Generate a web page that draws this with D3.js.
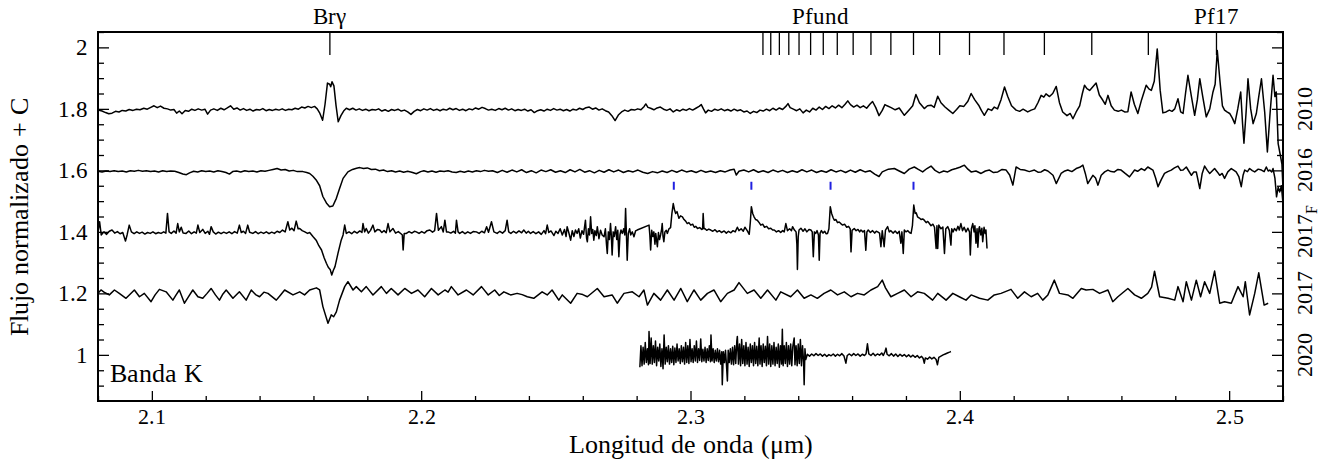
<!DOCTYPE html>
<html><head><meta charset="utf-8">
<script src="https://cdn.jsdelivr.net/npm/d3@7"></script>
<style>
@font-face{font-family:"ChartSerif";src:local("Liberation Serif"),local("LiberationSerif"),local("LiberationSerif-Regular"),local("Times New Roman"),local("TimesNewRomanPSMT"),local("Tinos"),local("Nimbus Roman"),local("NimbusRoman-Regular"),local("DejaVu Serif"),local("DejaVuSerif"),local("Noto Serif"),local("NotoSerif-Regular");}
html,body{margin:0;padding:0;background:#fff;}
</style></head>
<body><svg id="chart" width="1328" height="468"></svg>
<script>
// ---------- DATA ----------
const xDomain = [2.08, 2.52];
const yDomain = [0.85, 2.05];
const xMajorTicks = [2.1, 2.2, 2.3, 2.4, 2.5];
const yMajorTicks = [1, 1.2, 1.4, 1.6, 1.8, 2];
const seriesLabels = ["2010", "2016", "2017", "2017", "2020"];
const seriesSubs = ["", "", "F", "", ""];
const seriesOffsets = [0.8, 0.6, 0.4, 0.2, 0.0];
const brgLine = 2.1661;
const pfundLines = [2.4953,2.4700,2.4490,2.4314,2.4164,2.4036,2.3925,2.3828,2.3744,2.3670,2.3604,2.3545,2.3493,2.3446,2.3403,2.3365,2.3330,2.3298,2.3269];
const topLabels = [{t:"Brγ", w:2.1661},{t:"Pfund", w:2.3484},{t:"Pf17", w:2.4953}];
const coBandheads = [2.2938, 2.3226, 2.3520, 2.3828];

const spec2010 = [[2.0800,0.996],[2.0815,0.993],[2.0828,0.988],[2.0840,0.984],[2.0852,0.986],[2.0865,0.992],[2.0878,0.990],[2.0890,0.995],[2.0903,0.993],[2.0916,0.998],[2.0930,0.995],[2.0943,0.999],[2.0956,0.997],[2.0970,1.002],[2.0983,0.999],[2.0996,1.005],[2.1008,1.010],[2.1020,1.004],[2.1032,1.009],[2.1045,1.002],[2.1058,1.000],[2.1070,0.996],[2.1082,0.998],[2.1092,0.986],[2.1102,0.993],[2.1112,0.984],[2.1124,0.995],[2.1136,0.992],[2.1148,0.999],[2.1160,0.995],[2.1172,1.000],[2.1185,0.996],[2.1197,0.999],[2.1207,0.983],[2.1218,0.996],[2.1230,1.000],[2.1243,0.995],[2.1256,1.002],[2.1268,0.997],[2.1280,1.003],[2.1292,1.010],[2.1304,0.999],[2.1316,1.003],[2.1328,0.996],[2.1340,1.001],[2.1352,0.995],[2.1364,0.999],[2.1376,0.993],[2.1388,0.998],[2.1400,0.996],[2.1412,1.001],[2.1424,0.994],[2.1436,0.998],[2.1448,0.995],[2.1460,0.999],[2.1472,0.996],[2.1484,1.000],[2.1496,0.995],[2.1508,0.999],[2.1520,0.997],[2.1532,1.002],[2.1544,0.999],[2.1556,1.006],[2.1568,1.003],[2.1580,1.008],[2.1592,1.004],[2.1604,1.008],[2.1614,1.000],[2.1624,0.985],[2.1634,0.963],[2.1643,1.015],[2.1652,1.084],[2.1660,1.080],[2.1664,1.072],[2.1669,1.088],[2.1676,1.075],[2.1684,1.010],[2.1692,0.958],[2.1702,0.978],[2.1712,0.993],[2.1722,1.002],[2.1734,0.997],[2.1746,1.002],[2.1758,0.996],[2.1770,1.000],[2.1782,0.995],[2.1794,0.999],[2.1806,0.994],[2.1818,0.998],[2.1830,0.996],[2.1842,1.000],[2.1854,0.993],[2.1866,0.997],[2.1878,0.992],[2.1890,0.998],[2.1902,0.995],[2.1914,0.999],[2.1926,0.993],[2.1938,0.996],[2.1950,0.990],[2.1962,0.982],[2.1974,0.992],[2.1986,0.998],[2.1998,0.994],[2.2010,1.000],[2.2022,0.996],[2.2034,1.001],[2.2046,0.995],[2.2058,0.999],[2.2070,0.994],[2.2082,0.999],[2.2094,0.996],[2.2106,1.002],[2.2118,0.997],[2.2130,1.001],[2.2142,0.995],[2.2154,0.999],[2.2166,0.994],[2.2178,1.000],[2.2190,0.997],[2.2202,1.003],[2.2214,0.999],[2.2226,1.005],[2.2238,1.001],[2.2250,0.996],
[2.2262,0.999],[2.2275,0.995],[2.2288,1.001],[2.2300,0.997],[2.2312,1.002],[2.2324,0.996],[2.2336,1.000],[2.2348,0.994],[2.2360,0.998],[2.2372,0.995],[2.2384,0.999],[2.2396,0.993],[2.2408,0.997],[2.2420,0.988],[2.2432,0.994],[2.2444,0.997],[2.2456,0.993],[2.2468,0.999],[2.2480,0.995],[2.2492,1.001],[2.2504,0.996],[2.2516,0.999],[2.2528,0.994],[2.2540,0.998],[2.2552,0.993],[2.2564,0.999],[2.2576,0.996],[2.2588,1.002],[2.2600,0.998],[2.2612,1.004],[2.2624,1.006],[2.2636,0.999],[2.2648,1.003],[2.2660,0.996],[2.2672,1.000],[2.2684,0.994],[2.2696,0.990],[2.2708,0.978],[2.2720,0.962],[2.2732,0.980],[2.2744,0.990],[2.2756,0.996],[2.2768,0.992],[2.2780,0.998],[2.2792,0.996],[2.2804,1.000],[2.2816,0.997],[2.2828,1.008],[2.2834,1.016],[2.2842,1.005],[2.2852,1.002],[2.2864,0.997],[2.2876,1.003],[2.2888,1.006],[2.2900,0.999],[2.2912,0.995],[2.2924,1.000],[2.2936,0.990],[2.2948,0.997],[2.2960,0.993],[2.2972,0.999],[2.2984,0.995],[2.2996,1.001],[2.3008,0.996],[2.3020,1.002],[2.3032,1.008],[2.3040,1.014],[2.3048,1.000],[2.3056,0.987],[2.3066,0.996],[2.3078,0.992],[2.3090,0.999],[2.3102,0.995],[2.3114,1.000],[2.3126,0.994],[2.3138,0.998],[2.3150,0.993],[2.3162,0.999],[2.3174,0.994],[2.3186,0.997],[2.3198,0.990],[2.3210,0.993],[2.3222,0.985],[2.3234,0.992],[2.3246,0.988],[2.3258,0.996],[2.3270,0.993],[2.3282,0.999],[2.3294,0.994],[2.3306,1.002],[2.3318,0.996],[2.3330,1.003],[2.3342,0.998],[2.3354,1.008],[2.3362,1.017],[2.3370,1.004],[2.3382,0.999],[2.3394,0.994],[2.3406,1.000],[2.3418,0.987],[2.3430,0.996],[2.3442,0.990],[2.3454,1.002],[2.3466,0.996],[2.3478,1.006],[2.3490,0.998],[2.3502,1.008],[2.3514,1.001],[2.3526,1.010],[2.3538,1.003],[2.3550,1.012],[2.3562,1.004],[2.3574,1.015],[2.3584,1.026],[2.3594,1.014],[2.3606,1.006],[2.3618,1.012],[2.3630,1.004],[2.3642,1.010],[2.3654,1.002],[2.3666,1.015],[2.3676,1.024],[2.3688,1.004],[2.3700,0.978],[2.3712,0.995],[2.3722,1.014],
[2.3730,1.010],[2.3745,1.004],[2.3760,0.997],[2.3775,1.003],[2.3794,0.979],[2.3810,0.995],[2.3825,1.010],[2.3837,1.047],[2.3850,1.020],[2.3868,1.001],[2.3880,1.010],[2.3893,1.012],[2.3905,1.005],[2.3918,1.041],[2.3930,1.020],[2.3945,1.006],[2.3960,0.995],[2.3974,0.985],[2.3988,0.998],[2.4000,1.010],[2.4015,1.008],[2.4030,1.025],[2.4042,1.050],[2.4055,1.030],[2.4070,1.012],[2.4080,0.995],[2.4091,0.979],[2.4105,1.000],[2.4118,0.995],[2.4128,1.006],[2.4140,1.000],[2.4153,1.030],[2.4166,1.071],[2.4178,1.040],[2.4192,1.010],[2.4209,0.996],[2.4222,0.992],[2.4235,0.999],[2.4252,0.990],[2.4265,0.996],[2.4278,1.000],[2.4290,1.020],[2.4302,1.044],[2.4312,1.038],[2.4320,1.049],[2.4333,1.040],[2.4345,1.050],[2.4358,1.073],[2.4370,1.020],[2.4382,0.990],[2.4398,0.978],[2.4410,0.985],[2.4420,0.968],[2.4432,0.990],[2.4445,1.010],[2.4455,1.050],[2.4463,1.077],[2.4472,1.066],[2.4482,1.060],[2.4494,1.072],[2.4506,1.084],[2.4518,1.045],[2.4531,1.028],[2.4540,1.015],[2.4550,1.044],[2.4562,1.010],[2.4574,0.996],[2.4588,0.992],[2.4600,0.996],[2.4612,0.990],[2.4624,0.991],[2.4636,1.055],[2.4648,1.015],[2.4661,0.985],[2.4675,1.030],[2.4692,1.077],[2.4702,1.065],[2.4711,1.060],[2.4722,1.090],[2.4733,1.195],[2.4744,1.060],[2.4754,0.987],[2.4766,0.990],[2.4778,0.996],[2.4788,0.992],[2.4798,1.000],[2.4810,1.033],[2.4820,0.990],[2.4829,0.985],[2.4838,1.050],[2.4847,1.109],[2.4860,1.040],[2.4872,0.979],[2.4882,1.030],[2.4891,1.098],[2.4902,1.040],[2.4915,0.974],[2.4928,1.000],[2.4940,1.055],[2.4948,1.080],[2.4956,1.190],[2.4966,1.090],[2.4975,1.010],[2.4983,0.996],[2.4992,0.990],[2.5002,0.985],[2.5012,0.970],[2.5021,0.952],[2.5032,1.000],[2.5043,1.055],[2.5050,0.950],[2.5055,0.888],[2.5063,0.990],[2.5070,1.098],[2.5080,1.000],[2.5089,0.952],[2.5101,0.985],[2.5110,1.040],[2.5120,1.098],[2.5132,0.990],[2.5142,0.860],[2.5151,0.974],[2.5163,1.109],[2.5170,1.040],[2.5175,1.055],[2.5182,0.887],[2.5190,0.850],[2.5196,0.820],[2.5200,0.740],[2.5204,0.700]];

const spec2016 = [[2.0800,0.997],[2.0815,0.995],[2.0830,0.998],[2.0845,0.996],[2.0860,0.999],[2.0875,0.996],[2.0890,0.998],[2.0905,0.995],[2.0920,0.999],[2.0935,0.997],[2.0950,1.000],[2.0965,0.997],[2.0980,0.999],[2.0995,0.996],[2.1010,0.998],[2.1025,0.995],[2.1040,0.999],[2.1055,0.996],[2.1070,0.998],[2.1085,0.997],[2.1100,0.993],[2.1115,0.988],[2.1128,0.986],[2.1140,0.992],[2.1155,0.997],[2.1170,0.995],[2.1185,0.999],[2.1200,0.996],[2.1215,0.998],[2.1230,0.995],[2.1245,0.999],[2.1260,0.996],[2.1275,0.993],[2.1288,0.988],[2.1300,0.996],[2.1315,0.998],[2.1330,0.995],[2.1345,0.999],[2.1360,0.996],[2.1375,0.998],[2.1390,0.995],[2.1405,0.999],[2.1420,0.997],[2.1435,1.000],[2.1450,1.003],[2.1465,1.006],[2.1480,1.001],[2.1495,1.003],[2.1510,0.998],[2.1525,1.000],[2.1540,0.996],[2.1561,0.996],[2.1575,0.993],[2.1586,0.990],[2.1598,0.981],[2.1610,0.969],[2.1623,0.950],[2.1635,0.915],[2.1648,0.894],[2.1660,0.882],[2.1672,0.884],[2.1685,0.909],[2.1697,0.941],[2.1710,0.974],[2.1728,0.995],[2.1745,1.003],[2.1760,1.007],[2.1772,1.009],[2.1786,1.006],[2.1800,1.008],[2.1815,1.003],[2.1830,1.004],[2.1845,0.999],[2.1860,1.001],[2.1875,0.996],[2.1890,0.999],[2.1905,0.995],[2.1920,0.998],[2.1935,0.994],[2.1950,0.997],[2.1965,0.994],[2.1982,0.989],[2.1998,0.996],[2.2010,0.999],[2.2025,0.995],[2.2040,0.998],[2.2055,0.994],[2.2070,0.998],[2.2085,0.996],[2.2100,0.999],[2.2115,0.995],[2.2130,0.993],[2.2145,0.997],[2.2160,0.994],[2.2175,0.998],[2.2190,0.995],[2.2205,0.999],[2.2220,0.996],[2.2235,1.000],[2.2250,0.997],
[2.2265,0.999],[2.2283,0.993],[2.2301,1.000],[2.2319,0.994],[2.2337,1.001],[2.2355,0.995],[2.2373,1.002],[2.2391,0.993],[2.2409,0.999],[2.2427,0.992],[2.2445,1.001],[2.2463,0.996],[2.2481,1.002],[2.2499,0.994],[2.2517,0.999],[2.2535,0.993],[2.2553,1.002],[2.2571,0.995],[2.2589,1.003],[2.2607,0.994],[2.2625,0.999],[2.2643,0.992],[2.2661,1.000],[2.2679,0.994],[2.2697,1.002],[2.2715,0.995],[2.2733,1.001],[2.2751,0.993],[2.2769,0.999],[2.2787,0.995],[2.2805,1.001],[2.2823,0.994],[2.2841,0.990],[2.2859,0.996],[2.2877,0.992],[2.2895,0.998],[2.2913,0.993],[2.2931,1.000],[2.2949,0.994],[2.2967,1.001],[2.2985,0.995],[2.3003,0.999],[2.3021,0.993],[2.3039,1.000],[2.3057,0.994],[2.3075,0.998],[2.3093,0.993],[2.3111,0.999],[2.3129,0.995],[2.3147,1.001],[2.3162,1.004],[2.3170,0.985],[2.3180,0.997],[2.3198,1.001],[2.3216,0.995],[2.3234,1.002],[2.3252,0.994],[2.3270,0.999],[2.3288,0.993],[2.3306,1.001],[2.3324,0.995],[2.3342,1.000],[2.3360,0.993],[2.3378,0.999],[2.3396,0.994],[2.3414,1.002],[2.3432,0.995],[2.3450,1.001],[2.3468,0.993],[2.3486,0.999],[2.3504,0.994],[2.3522,1.002],[2.3540,0.995],[2.3558,1.000],[2.3576,0.993],[2.3594,1.001],[2.3612,0.994],[2.3630,1.002],[2.3648,0.995],[2.3666,0.999],[2.3684,0.988],[2.3700,0.980],[2.3712,0.995],
[2.3735,1.004],[2.3757,1.006],[2.3775,0.998],[2.3794,0.990],[2.3812,1.004],[2.3831,1.011],[2.3846,1.003],[2.3862,0.995],[2.3878,1.006],[2.3893,1.014],[2.3908,1.000],[2.3924,0.992],[2.3940,0.998],[2.3955,0.995],[2.3970,1.002],[2.3986,1.006],[2.4000,1.010],[2.4017,1.017],[2.4030,1.004],[2.4042,0.995],[2.4060,0.998],[2.4079,0.990],[2.4095,0.998],[2.4110,1.001],[2.4125,0.993],[2.4141,0.995],[2.4157,1.003],[2.4172,1.001],[2.4185,0.985],[2.4197,0.952],[2.4209,1.011],[2.4224,1.003],[2.4240,1.001],[2.4258,0.996],[2.4277,1.001],[2.4290,0.994],[2.4302,0.995],[2.4315,1.002],[2.4327,0.998],[2.4346,0.984],[2.4358,0.957],[2.4376,0.990],[2.4390,0.998],[2.4401,1.001],[2.4416,0.996],[2.4432,1.006],[2.4445,1.010],[2.4457,1.017],[2.4466,0.990],[2.4475,0.957],[2.4494,0.984],[2.4504,0.975],[2.4513,0.952],[2.4525,0.984],[2.4538,0.995],[2.4550,1.001],[2.4562,0.996],[2.4574,0.995],[2.4587,1.003],[2.4599,1.001],[2.4614,0.990],[2.4630,0.979],[2.4649,1.001],[2.4660,0.997],[2.4674,1.006],[2.4686,1.000],[2.4698,1.011],[2.4717,1.001],[2.4727,0.975],[2.4736,0.947],[2.4748,0.970],[2.4760,0.990],[2.4772,0.996],[2.4785,1.001],[2.4797,1.008],[2.4810,1.014],[2.4820,1.000],[2.4829,1.001],[2.4841,1.011],[2.4850,0.998],[2.4860,0.984],[2.4869,0.995],[2.4878,0.995],[2.4891,0.941],[2.4900,0.990],[2.4909,1.014],[2.4919,1.000],[2.4928,0.990],[2.4937,0.998],[2.4946,1.006],[2.4956,0.995],[2.4965,0.984],[2.4974,0.990],[2.4983,0.974],[2.4995,0.995],[2.5008,1.006],[2.5018,1.000],[2.5026,0.995],[2.5036,0.980],[2.5045,0.947],[2.5052,0.985],[2.5058,1.001],[2.5068,0.996],[2.5076,1.006],[2.5086,0.999],[2.5095,0.995],[2.5108,1.004],[2.5120,1.001],[2.5130,0.996],[2.5138,1.011],[2.5145,0.998],[2.5151,1.001],[2.5158,0.995],[2.5163,1.006],[2.5170,0.975],[2.5176,0.914],[2.5182,0.945],[2.5188,0.930],[2.5194,0.950],[2.5200,0.892],[2.5204,0.880]];

const spec2017F = [[2.0800,1.000],[2.0806,1.033],[2.0812,0.990],[2.0822,1.000],[2.0832,0.992],[2.0842,1.002],[2.0852,1.006],[2.0862,0.996],[2.0872,1.001],[2.0882,0.994],[2.0892,0.998],[2.0902,0.970],[2.0908,0.990],[2.0916,1.022],[2.0924,1.000],[2.0934,0.994],[2.0944,1.000],[2.0954,0.995],[2.0964,0.999],[2.0974,0.993],[2.0984,0.998],[2.0994,0.995],[2.1004,1.000],[2.1014,0.994],[2.1024,0.998],[2.1034,0.995],[2.1044,1.000],[2.1052,0.996],[2.1058,1.060],[2.1064,1.000],[2.1072,0.995],[2.1082,1.003],[2.1090,0.996],[2.1096,1.027],[2.1102,1.000],[2.1109,1.015],[2.1116,0.996],[2.1127,0.995],[2.1137,1.003],[2.1147,0.994],[2.1157,1.000],[2.1165,0.996],[2.1171,1.022],[2.1178,0.998],[2.1189,1.008],[2.1198,0.995],[2.1208,1.002],[2.1214,0.992],[2.1220,1.017],[2.1228,1.000],[2.1237,0.993],[2.1247,0.999],[2.1257,0.994],[2.1267,0.999],[2.1277,0.995],[2.1287,1.000],[2.1297,0.994],[2.1307,1.001],[2.1317,0.996],[2.1325,1.022],[2.1332,0.998],[2.1340,1.002],[2.1348,0.995],[2.1356,1.022],[2.1363,0.999],[2.1375,0.995],[2.1385,1.001],[2.1395,0.994],[2.1405,0.999],[2.1415,0.995],[2.1425,1.000],[2.1435,0.994],[2.1445,0.999],[2.1455,0.995],[2.1465,1.002],[2.1475,0.998],[2.1485,1.006],[2.1495,1.000],[2.1505,1.033],[2.1512,1.006],[2.1520,1.012],[2.1528,1.004],[2.1536,1.035],[2.1543,1.010],[2.1549,1.011],[2.1558,1.004],[2.1568,1.000],[2.1578,0.995],[2.1586,0.998],[2.1598,0.985],[2.1610,0.973],[2.1620,0.955],[2.1630,0.941],[2.1640,0.915],[2.1648,0.898],[2.1655,0.885],[2.1662,0.878],[2.1668,0.860],[2.1674,0.875],[2.1680,0.887],[2.1691,0.930],[2.1703,0.973],[2.1710,0.990],[2.1716,1.022],[2.1722,0.995],[2.1732,1.000],[2.1742,0.994],[2.1752,1.002],[2.1762,0.996],[2.1772,1.003],[2.1780,0.998],[2.1784,1.027],[2.1790,1.000],[2.1796,1.011],[2.1804,0.996],[2.1812,1.005],[2.1821,1.022],[2.1828,1.000],[2.1838,1.008],[2.1846,1.006],[2.1854,0.998],[2.1862,1.004],[2.1870,0.997],[2.1877,1.027],[2.1884,1.000],[2.1895,1.011],[2.1905,0.996],[2.1915,1.001],[2.1925,0.994],[2.1930,0.990],[2.1933,0.941],[2.1937,0.995],[2.1945,0.995],[2.1955,1.001],[2.1965,0.996],[2.1975,1.002],[2.1982,1.000],[2.1992,0.995],[2.2002,1.001],[2.2012,0.996],[2.2022,1.004],[2.2032,1.006],[2.2042,0.999],[2.2050,1.004],[2.2057,1.060],[2.2064,1.005],[2.2075,1.017],[2.2082,1.000],[2.2088,1.038],[2.2094,1.000],[2.2100,1.000],[2.2110,0.996],[2.2120,1.002],[2.2127,0.996],[2.2131,1.038],[2.2137,1.000],[2.2143,0.995],[2.2153,1.001],[2.2163,0.994],[2.2173,1.000],[2.2183,0.995],[2.2193,1.001],[2.2205,1.000],[2.2215,0.995],[2.2225,1.002],[2.2235,0.997],[2.2243,1.017],[2.2250,0.999],[2.2261,1.033],
[2.2270,1.000],[2.2282,0.995],[2.2292,1.002],[2.2302,0.996],[2.2312,1.004],[2.2319,1.038],[2.2325,1.000],[2.2333,0.995],[2.2343,1.002],[2.2353,0.996],[2.2363,1.003],[2.2373,0.997],[2.2381,1.006],[2.2390,0.996],[2.2398,1.002],[2.2406,0.995],[2.2416,1.001],[2.2426,0.994],[2.2436,1.000],[2.2446,0.992],[2.2456,1.004],[2.2462,0.994],[2.2468,1.022],[2.2474,0.998],[2.2482,1.003],[2.2493,0.988],[2.2500,1.002],[2.2508,0.995],[2.2516,1.010],[2.2524,0.990],[2.2532,1.008],[2.2538,0.985],[2.2542,1.017],[2.2548,0.998],[2.2555,0.973],[2.2561,1.004],[2.2567,0.985],[2.2573,1.006],[2.2579,0.995],[2.2585,1.010],[2.2591,0.980],[2.2597,1.004],[2.2603,0.992],[2.2610,1.038],[2.2614,0.980],[2.2617,0.968],[2.2621,1.010],[2.2625,0.990],[2.2629,1.049],[2.2633,0.995],[2.2637,1.008],[2.2641,0.973],[2.2645,1.004],[2.2650,0.988],[2.2654,1.017],[2.2660,0.978],[2.2666,1.005],[2.2672,0.990],[2.2679,0.984],[2.2684,1.010],[2.2688,0.960],[2.2691,0.930],[2.2695,1.000],[2.2699,0.975],[2.2703,1.027],[2.2706,0.990],[2.2709,0.925],[2.2713,1.000],[2.2717,0.985],[2.2722,1.017],[2.2726,0.975],[2.2730,1.005],[2.2734,0.919],[2.2738,0.990],[2.2742,1.006],[2.2747,0.995],[2.2752,1.010],[2.2756,0.990],[2.2759,1.076],[2.2762,0.995],[2.2765,0.908],[2.2769,0.995],[2.2774,1.010],[2.2778,0.990],[2.2784,1.000],[2.2790,0.984],[2.2796,1.003],[2.2802,1.006],[2.2846,1.022],[2.2849,0.990],[2.2852,0.941],[2.2856,1.005],[2.2860,0.985],[2.2864,1.000],[2.2868,0.960],[2.2871,0.995],[2.2877,0.952],[2.2881,0.998],[2.2885,0.975],[2.2889,0.990],[2.2893,1.010],[2.2895,1.027],[2.2898,0.985],[2.2901,0.968],[2.2905,1.000],[2.2910,1.005],[2.2914,0.995],[2.2920,1.010],[2.2926,1.014],[2.2931,1.060],[2.2936,1.092],[2.2941,1.070],[2.2945,1.060],[2.2950,1.066],[2.2957,1.044],[2.2963,1.052],[2.2970,1.049],[2.2976,1.040],[2.2982,1.035],[2.2988,1.027],[2.2994,1.030],[2.3001,1.022],[2.3008,1.025],[2.3014,1.015],[2.3020,1.018],[2.3026,1.011],[2.3034,1.014],[2.3042,1.008],[2.3045,1.010],[2.3047,1.060],[2.3050,1.010],[2.3053,1.011],[2.3060,1.005],[2.3068,1.009],[2.3075,1.006],[2.3083,1.002],[2.3091,1.007],[2.3099,1.000],[2.3107,1.004],[2.3115,0.998],[2.3125,1.003],[2.3133,0.996],[2.3141,1.002],[2.3150,0.997],[2.3158,1.004],[2.3166,1.000],[2.3174,1.015],[2.3180,1.004],[2.3188,1.010],[2.3196,1.002],[2.3202,1.015],[2.3210,1.005],[2.3218,0.992],[2.3222,1.030],[2.3226,1.082],[2.3231,1.060],[2.3236,1.049],[2.3242,1.040],[2.3248,1.038],[2.3255,1.030],[2.3261,1.022],[2.3268,1.025],[2.3275,1.015],[2.3283,1.018],[2.3290,1.010],[2.3298,1.012],[2.3305,1.006],[2.3311,1.006],[2.3319,1.000],[2.3327,1.004],[2.3335,0.998],[2.3342,1.004],[2.3348,1.000],[2.3354,1.027],[2.3360,1.004],[2.3368,1.010],[2.3375,1.004],[2.3379,1.017],[2.3386,1.006],[2.3392,1.000],[2.3395,0.960],[2.3397,0.878],[2.3400,0.985],[2.3403,1.006],[2.3410,1.012],[2.3418,1.002],[2.3425,1.010],[2.3432,1.000],[2.3440,1.008],[2.3447,1.006],[2.3452,1.000],[2.3456,0.919],[2.3460,1.000],[2.3465,0.995],[2.3470,1.004],[2.3475,0.990],[2.3478,0.908],[2.3481,0.995],[2.3486,1.004],[2.3492,0.996],[2.3498,1.002],[2.3504,0.994],[2.3509,0.995],[2.3514,1.010],[2.3519,1.082],[2.3524,1.060],[2.3530,1.045],[2.3534,1.038],[2.3540,1.040],[2.3546,1.030],[2.3552,1.032],[2.3558,1.027],[2.3565,1.022],[2.3572,1.025],[2.3580,1.015],[2.3587,1.018],[2.3593,1.010],[2.3596,0.935],[2.3600,1.005],[2.3608,1.011],[2.3615,1.004],[2.3622,1.008],[2.3628,1.000],[2.3633,1.006],[2.3640,1.000],[2.3646,1.004],[2.3651,0.940],[2.3655,1.000],[2.3660,1.006],[2.3668,0.998],[2.3676,1.004],[2.3684,0.996],[2.3690,1.002],[2.3695,1.000],[2.3702,0.996],[2.3707,0.952],[2.3712,1.004],[2.3719,0.952],[2.3724,1.006],[2.3732,1.017],[2.3738,1.000],[2.3744,1.004],[2.3752,0.996],[2.3760,1.003],[2.3768,0.995],[2.3775,1.002],[2.3781,0.963],[2.3785,1.000],[2.3790,0.930],[2.3794,1.006],[2.3800,1.000],[2.3807,1.004],[2.3814,0.997],[2.3819,0.995],[2.3824,1.020],[2.3829,1.087],[2.3834,1.060],[2.3838,1.062],[2.3843,1.049],[2.3850,1.045],[2.3856,1.040],[2.3862,1.042],[2.3868,1.038],[2.3875,1.030],[2.3881,1.034],[2.3887,1.027],[2.3893,1.020],[2.3900,1.025],[2.3906,1.015],[2.3912,0.946],[2.3915,1.020],[2.3918,0.946],[2.3922,1.022],[2.3930,1.010],[2.3937,1.016],[2.3943,0.930],[2.3948,1.010],[2.3955,1.017],[2.3961,1.005],[2.3967,0.957],[2.3970,1.010],[2.3975,1.000],[2.3980,1.011],[2.3987,1.004],[2.3993,1.018],[2.3998,1.006],[2.4004,1.027],[2.4010,1.004],[2.4016,1.015],[2.4023,1.000],[2.4030,1.012],[2.4036,1.000],[2.4039,0.925],[2.4043,1.010],[2.4048,1.027],[2.4053,1.000],[2.4056,1.020],[2.4060,0.963],[2.4064,1.010],[2.4067,0.950],[2.4071,1.010],[2.4073,1.017],[2.4078,0.990],[2.4082,1.012],[2.4085,0.968],[2.4090,1.015],[2.4094,0.995],[2.4097,1.006],[2.4101,0.946]];

const spec2017 = [[2.0800,1.000],[2.0811,1.011],[2.0826,1.002],[2.0842,0.995],[2.0861,1.011],[2.0879,1.000],[2.0904,0.984],[2.0920,0.998],[2.0935,1.011],[2.0954,0.989],[2.0972,1.000],[2.0997,0.973],[2.1012,0.995],[2.1028,1.013],[2.1053,1.005],[2.1078,0.978],[2.1090,0.995],[2.1102,1.011],[2.1121,0.968],[2.1138,0.992],[2.1152,1.011],[2.1171,0.989],[2.1189,0.984],[2.1205,1.000],[2.1220,1.016],[2.1236,0.995],[2.1251,0.978],[2.1264,0.998],[2.1276,1.011],[2.1301,0.984],[2.1325,1.005],[2.1350,0.978],[2.1369,1.011],[2.1385,0.996],[2.1400,0.989],[2.1416,1.004],[2.1431,1.000],[2.1462,0.978],[2.1478,0.995],[2.1493,1.011],[2.1524,0.995],[2.1549,1.005],[2.1567,0.995],[2.1586,1.011],[2.1611,1.018],[2.1623,1.011],[2.1635,0.957],[2.1654,0.903],[2.1666,0.930],[2.1675,0.924],[2.1685,0.940],[2.1697,0.978],[2.1716,1.022],[2.1728,1.038],[2.1747,1.011],[2.1759,1.022],[2.1778,1.005],[2.1796,1.022],[2.1821,0.995],[2.1852,1.022],[2.1871,1.000],[2.1889,1.016],[2.1914,0.995],[2.1939,1.016],[2.1964,1.000],[2.1988,1.011],[2.2013,0.989],[2.2038,1.016],[2.2063,0.995],[2.2088,1.011],[2.2100,1.004],[2.2112,1.022],[2.2137,0.995],[2.2168,1.011],[2.2193,0.995],[2.2224,1.022],[2.2249,0.995],[2.2273,1.011],
[2.2290,0.993],[2.2307,1.005],[2.2332,0.995],[2.2356,1.000],[2.2375,0.996],[2.2394,0.989],[2.2418,0.984],[2.2449,1.005],[2.2468,0.995],[2.2486,1.011],[2.2511,0.978],[2.2524,0.995],[2.2555,0.968],[2.2579,1.000],[2.2600,0.996],[2.2617,0.989],[2.2654,1.016],[2.2679,0.989],[2.2709,0.995],[2.2728,0.968],[2.2753,1.000],[2.2784,1.005],[2.2809,0.989],[2.2827,1.011],[2.2840,0.962],[2.2864,1.000],[2.2889,0.978],[2.2914,1.011],[2.2939,0.978],[2.2964,1.016],[2.2988,0.973],[2.3013,1.011],[2.3038,0.978],[2.3063,1.000],[2.3087,1.011],[2.3112,0.973],[2.3137,1.000],[2.3162,1.011],[2.3180,1.035],[2.3211,1.000],[2.3236,1.011],[2.3261,0.984],[2.3286,1.011],[2.3317,0.978],[2.3335,1.005],[2.3372,0.989],[2.3397,1.011],[2.3422,0.984],[2.3447,0.995],[2.3471,0.984],[2.3496,1.000],[2.3521,1.011],[2.3546,0.995],[2.3571,1.005],[2.3596,0.989],[2.3620,1.000],[2.3645,0.995],[2.3670,1.011],[2.3695,1.022],[2.3712,1.043],[2.3724,1.018],[2.3744,0.989],[2.3769,1.000],[2.3794,1.011],[2.3819,0.989],[2.3843,1.005],[2.3868,1.000],[2.3899,0.978],[2.3918,1.000],[2.3949,0.978],[2.3974,1.000],[2.3998,0.989],[2.4023,0.978],[2.4042,0.995],[2.4073,0.984],[2.4104,0.978],[2.4128,0.995],[2.4153,1.000],[2.4190,1.013],[2.4215,0.984],[2.4240,1.005],[2.4265,0.989],[2.4289,1.000],[2.4308,0.978],[2.4327,0.995],[2.4351,1.043],[2.4370,1.000],[2.4401,0.995],[2.4420,0.984],[2.4451,1.016],[2.4469,1.011],[2.4494,1.013],[2.4519,1.000],[2.4550,1.011],[2.4568,0.973],[2.4587,0.989],[2.4624,1.016],[2.4649,0.995],[2.4674,0.984],[2.4698,1.000],[2.4712,1.020],[2.4723,1.072],[2.4742,0.989],[2.4773,0.984],[2.4798,0.978],[2.4810,1.022],[2.4829,0.973],[2.4841,1.038],[2.4860,0.978],[2.4878,1.043],[2.4894,0.989],[2.4909,1.038],[2.4928,1.000],[2.4946,1.0725],[2.4965,0.968],[2.4983,0.973],[2.5008,0.968],[2.5033,1.022],[2.5052,0.989],[2.5060,1.038],[2.5076,0.930],[2.5095,1.000],[2.5110,1.067],[2.5130,0.962],[2.5145,0.968]];

const spec2020 = [[2.2812,0.960],[2.2816,1.030],[2.2820,0.965],[2.2824,1.025],[2.2828,0.970],[2.2832,1.040],[2.2836,0.975],[2.2840,1.020],[2.2844,0.968],[2.2846,1.076],[2.2850,0.972],[2.2854,1.055],[2.2858,0.970],[2.2862,1.030],[2.2866,0.975],[2.2870,1.045],[2.2874,0.965],[2.2878,1.025],[2.2882,0.980],[2.2886,1.035],[2.2890,0.962],[2.2894,1.020],[2.2898,0.955],[2.2902,1.065],[2.2906,0.970],[2.2910,1.025],[2.2914,0.978],[2.2918,1.030],[2.2922,0.970],[2.2926,1.020],[2.2930,0.975],[2.2934,1.028],[2.2938,0.968],[2.2942,1.022],[2.2946,0.975],[2.2950,1.035],[2.2954,0.980],[2.2958,1.020],[2.2962,0.972],[2.2966,1.030],[2.2970,0.978],[2.2974,1.025],[2.2978,0.970],[2.2982,1.040],[2.2986,0.975],[2.2990,1.030],[2.2994,0.972],[2.2998,1.050],[2.3002,0.978],[2.3006,1.020],[2.3010,0.975],[2.3014,1.030],[2.3018,0.980],[2.3022,1.045],[2.3026,0.975],[2.3030,1.020],[2.3034,0.982],[2.3038,1.052],[2.3042,0.978],[2.3046,1.018],[2.3050,0.980],[2.3054,1.025],[2.3058,0.975],[2.3062,1.020],[2.3066,0.982],[2.3070,1.030],[2.3074,0.978],[2.3076,1.065],[2.3080,0.980],[2.3084,1.020],[2.3088,0.975],[2.3092,1.015],[2.3096,0.980],[2.3100,1.020],[2.3104,0.978],[2.3108,1.015],[2.3112,0.970],[2.3116,1.010],[2.3118,0.903],[2.3122,1.010],[2.3126,0.975],[2.3130,1.015],[2.3134,0.960],[2.3137,0.915],[2.3140,1.015],[2.3144,0.975],[2.3148,1.020],[2.3152,0.970],[2.3156,1.025],[2.3160,0.968],[2.3164,1.030],[2.3168,0.972],[2.3172,1.045],[2.3174,1.060],[2.3178,0.970],[2.3182,1.035],[2.3186,0.965],[2.3190,1.050],[2.3194,0.972],[2.3198,1.030],[2.3202,0.965],[2.3206,1.040],[2.3210,0.970],[2.3214,1.025],[2.3218,0.962],[2.3222,1.035],[2.3226,0.975],[2.3230,1.030],[2.3234,0.965],[2.3238,1.040],[2.3242,0.972],[2.3246,1.028],[2.3250,0.965],[2.3255,1.055],[2.3258,0.970],[2.3262,1.030],[2.3266,0.962],[2.3270,1.035],[2.3274,0.975],[2.3278,1.028],[2.3282,0.965],[2.3286,1.060],[2.3290,0.970],[2.3294,1.035],[2.3298,0.962],[2.3302,1.030],[2.3306,0.970],[2.3310,1.040],[2.3314,0.965],[2.3318,1.025],[2.3322,0.972],[2.3326,1.035],[2.3330,0.960],[2.3334,1.030],[2.3338,0.970],[2.3341,1.083],[2.3344,0.965],[2.3348,1.030],[2.3352,0.972],[2.3356,1.040],[2.3360,0.962],[2.3364,1.030],[2.3368,0.970],[2.3372,1.035],[2.3376,0.965],[2.3380,1.028],[2.3385,1.055],[2.3388,0.968],[2.3392,1.030],[2.3396,0.965],[2.3400,1.035],[2.3404,0.972],[2.3408,1.050],[2.3412,0.965],[2.3416,1.030],[2.3420,0.975],[2.3422,0.903],[2.3425,1.020],[2.3428,0.985],
[2.3434,1.002],[2.3442,0.996],[2.3450,1.003],[2.3458,0.997],[2.3466,1.004],[2.3474,0.998],[2.3482,1.003],[2.3490,0.996],[2.3498,1.002],[2.3506,0.995],[2.3514,1.001],[2.3522,0.997],[2.3530,1.003],[2.3538,0.996],[2.3546,1.002],[2.3554,0.997],[2.3562,1.004],[2.3570,0.996],[2.3577,0.973],[2.3582,0.998],[2.3590,1.003],[2.3598,0.997],[2.3606,1.004],[2.3614,0.998],[2.3622,1.003],[2.3630,0.996],[2.3638,1.002],[2.3646,0.998],[2.3652,1.004],[2.3657,1.036],[2.3662,1.003],[2.3670,0.998],[2.3678,1.005],[2.3686,0.997],[2.3694,1.003],[2.3702,0.999],[2.3710,1.006],[2.3716,0.998],[2.3722,1.010],[2.3726,1.022],[2.3730,1.002],[2.3738,0.997],[2.3746,1.004],[2.3754,0.996],[2.3762,1.003],[2.3770,0.995],[2.3778,1.002],[2.3786,0.996],[2.3794,1.001],[2.3802,0.994],[2.3810,1.000],[2.3818,0.993],[2.3826,0.999],[2.3834,0.992],[2.3842,0.998],[2.3850,0.990],[2.3858,0.995],[2.3864,0.988],[2.3868,0.973],[2.3872,0.990],[2.3880,0.986],[2.3888,0.993],[2.3896,0.987],[2.3904,0.992],[2.3912,0.985],[2.3917,0.968],[2.3922,0.992],[2.3930,0.996],[2.3938,1.000],[2.3946,1.003],[2.3954,1.006],[2.3962,1.009],[2.3967,1.011]];

const spectra = [spec2010, spec2016, spec2017F, spec2017, spec2020];

// ---------- LAYOUT ----------
const W = 1328, H = 468;
const L = 98, R = 1283, T = 32, B = 401;
const SERIF = "ChartSerif, 'Liberation Serif', 'Times New Roman', Tinos, 'Nimbus Roman', FreeSerif, 'Noto Serif', 'DejaVu Serif', serif";

const svg = d3.select("#chart");
svg.append("rect").attr("width", W).attr("height", H).attr("fill", "#fff");

const x = d3.scaleLinear().domain(xDomain).range([L, R]);
const y = d3.scaleLinear().domain(yDomain).range([B, T]);

svg.append("defs").append("clipPath").attr("id", "clip")
  .append("rect").attr("x", L).attr("y", T).attr("width", R - L).attr("height", B - T);

const fmt = d3.format("");
const xMinor = d3.range(2.08, 2.5201, 0.02).map(v => +v.toFixed(3)).filter(v => !xMajorTicks.some(m => Math.abs(m - v) < 1e-6));
const yMinor = d3.range(0.9, 2.0501, 0.05).map(v => +v.toFixed(3)).filter(v => !yMajorTicks.some(m => Math.abs(m - v) < 1e-6));

function styleAxis(g, fs) {
  g.attr("font-family", null);
  g.select(".domain").remove();
  g.selectAll(".tick line").attr("stroke", "#000").attr("stroke-width", 1.3);
  g.selectAll(".tick text").attr("fill", "#000")
    .style("font-family", SERIF).style("font-size", fs + "px");
}

// bottom axis
svg.append("g").attr("transform", `translate(0,${B})`)
  .call(d3.axisBottom(x).tickValues(xMajorTicks).tickFormat(fmt).tickSize(-10).tickPadding(7))
  .call(g => styleAxis(g, 22));
svg.append("g").attr("transform", `translate(0,${B})`)
  .call(d3.axisBottom(x).tickValues(xMinor).tickFormat("").tickSize(-5))
  .call(g => styleAxis(g, 0));
// left axis
svg.append("g").attr("transform", `translate(${L},0)`)
  .call(d3.axisLeft(y).tickValues(yMajorTicks).tickFormat(fmt).tickSize(-11).tickPadding(10))
  .call(g => styleAxis(g, 23));
svg.append("g").attr("transform", `translate(${L},0)`)
  .call(d3.axisLeft(y).tickValues(yMinor).tickFormat("").tickSize(-6))
  .call(g => styleAxis(g, 0));
// right axis (ticks only)
svg.append("g").attr("transform", `translate(${R},0)`)
  .call(d3.axisRight(y).tickValues(yMajorTicks).tickFormat("").tickSize(-11))
  .call(g => styleAxis(g, 0));
svg.append("g").attr("transform", `translate(${R},0)`)
  .call(d3.axisRight(y).tickValues(yMinor).tickFormat("").tickSize(-6))
  .call(g => styleAxis(g, 0));

// frame
svg.append("rect").attr("x", L).attr("y", T).attr("width", R - L).attr("height", B - T)
  .attr("fill", "none").attr("stroke", "#000").attr("stroke-width", 2);

// line markers at top
const markLen = 23;
svg.append("g").selectAll("line").data([brgLine].concat(pfundLines)).join("line")
  .attr("x1", d => x(d)).attr("x2", d => x(d))
  .attr("y1", T).attr("y2", T + markLen)
  .attr("stroke", "#000").attr("stroke-width", 1.3);

svg.append("g").selectAll("text").data(topLabels).join("text")
  .attr("x", d => x(d.w)).attr("y", 24)
  .attr("text-anchor", "middle")
  .style("font-family", SERIF).style("font-size", "23px")
  .attr("fill", "#000").text(d => d.t);

// spectra
const gSpec = svg.append("g").attr("clip-path", "url(#clip)");
spectra.forEach((s, i) => {
  const off = seriesOffsets[i];
  const line = d3.line().x(d => x(d[0])).y(d => y(d[1] + off));
  gSpec.append("path").datum(s).attr("d", line)
    .attr("fill", "none").attr("stroke", "#000").attr("stroke-width", 1.5)
    .attr("stroke-linejoin", "round");
});

// CO bandhead markers (blue) above 2017F
svg.append("g").selectAll("line").data(coBandheads).join("line")
  .attr("x1", d => x(d)).attr("x2", d => x(d))
  .attr("y1", y(1.4 + 0.163)).attr("y2", y(1.4 + 0.137))
  .attr("stroke", "#2020e0").attr("stroke-width", 2);

// right series labels
const gLab = svg.append("g");
seriesLabels.forEach((lab, i) => {
  const t = gLab.append("text")
    .attr("transform", `translate(1312,${y(1 + seriesOffsets[i])}) rotate(-90)`)
    .attr("text-anchor", "middle")
    .style("font-family", SERIF).style("font-size", "22px").attr("fill", "#000");
  t.append("tspan").text(lab);
  if (seriesSubs[i]) {
    t.append("tspan").style("font-size", "16px").attr("dy", 5).text(seriesSubs[i]);
  }
});

// "Banda K"
svg.append("text").attr("x", 110).attr("y", 382)
  .style("font-family", SERIF).style("font-size", "26px").attr("fill", "#000").text("Banda K");

// axis titles
svg.append("text").attr("x", 691).attr("y", 453)
  .attr("text-anchor", "middle")
  .style("font-family", SERIF).style("font-size", "26px")
  .attr("fill", "#000").text("Longitud de onda (μm)");
svg.append("text").attr("transform", `translate(28,217) rotate(-90)`)
  .attr("text-anchor", "middle")
  .style("font-family", SERIF).style("font-size", "26px")
  .attr("fill", "#000").text("Flujo normalizado + C");
</script>
</body></html>
